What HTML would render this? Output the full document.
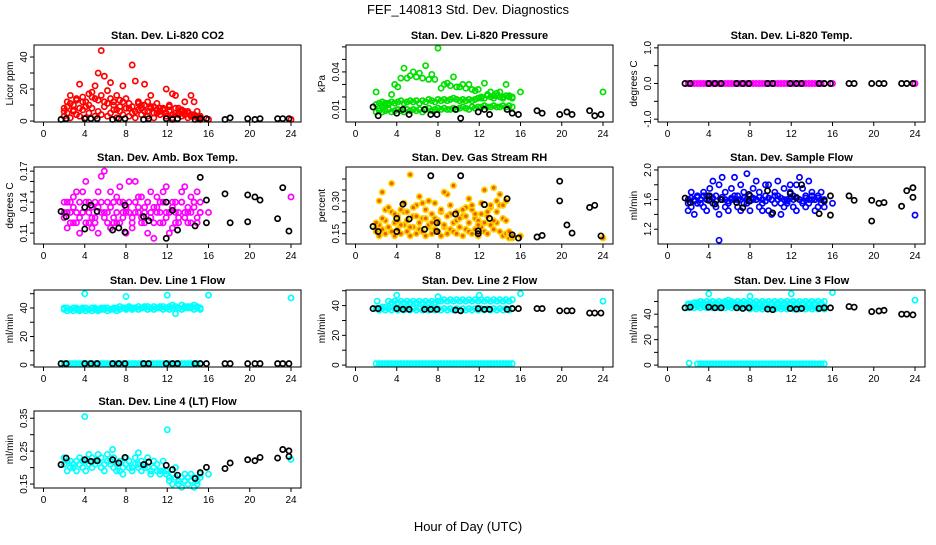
<!DOCTYPE html>
<html><head><meta charset="utf-8">
<style>
body{margin:0;background:#fff;}
svg text{font-family:"Liberation Sans",Arial,sans-serif;}
</style></head>
<body>
<svg id="chart" width="936" height="540" viewBox="0 0 936 540" xmlns="http://www.w3.org/2000/svg">
<rect x="0" y="0" width="936" height="540" fill="#fff"/>
<text x="468" y="14" font-size="13" text-anchor="middle">FEF_140813  Std. Dev. Diagnostics</text>
<text x="468" y="531" font-size="13" text-anchor="middle">Hour of Day (UTC)</text>
</svg>
<script>
const xTicks=[0,4,8,12,16,20,24];
const G=[2.0,2.3,2.6,2.9,3.2,3.5,3.8,4.1,4.4,4.7,5.0,5.3,5.6,5.9,6.2,6.5,6.8,7.1,7.4,7.7,8.0,8.3,8.6,8.9,9.2,9.5,9.8,10.1,10.4,10.7,11.0,11.3,11.6,11.9,12.2,12.5,12.8,13.1,13.4,13.7,14.0,14.3,14.6,14.9,15.2];
const BH=[1.7,2.2,4.0,4.6,5.2,6.7,7.3,7.9,9.7,10.2,11.9,12.5,13.0,14.7,15.2,15.8,17.6,18.1,19.8,20.5,21.0,22.7,23.2,23.8];
const LATE=[16.0,24.0];
// P1 CO2
const co2A=[3,5,2,6,4,3,7,2,5,8,3,6,4,9,3,5,7,2,6,4,8,3,5,2,7,4,6,3,8,2,5,4,7,3,6,2,5,4,3,6,2,4,3,2,1];
const co2B=[8,12,16,10,14,23,12,9,17,15,22,13,44,28,11,24,10,16,9,12,14,8,35,25,11,10,23,12,16,9,11,8,7,20,10,17,16,8,6,12,5,16,12,6,3];
const co2C=[6,9,11,7,13,8,15,12,10,18,14,30,16,12,19,14,12,7,13,22,8,11,9,6,12,8,10,6,9,5,7,6,8,5,9,4,8,5,7,4,6,3,4,3,2];
const co2Late=[1,1];
const co2Black=[1,1.5,1.5,1.5,1.5,1,1.5,1.5,1,1.5,1.5,1,1.5,1,1.5,1.5,1,2,1.5,1,1.5,1.5,1.5,1.5];
// P2 pressure
const prLow=[0.008,0.009,0.008,0.009,0.010,0.008,0.009,0.010,0.009,0.008,0.010,0.009,0.010,0.009,0.010,0.008,0.010,0.011,0.009,0.010,0.011,0.010,0.011,0.010,0.010,0.011,0.010,0.011,0.012,0.011,0.010,0.012,0.011,0.012,0.012,0.013,0.012,0.012,0.013,0.012,0.012,0.013,0.012,0.013,0.012];
const prMid=[0.014,0.015,0.016,0.015,0.015,0.016,0.015,0.016,0.017,0.015,0.016,0.017,0.016,0.017,0.015,0.017,0.016,0.018,0.017,0.016,0.018,0.017,0.018,0.017,0.018,0.019,0.018,0.017,0.018,0.017,0.018,0.017,0.018,0.019,0.020,0.019,0.021,0.020,0.019,0.021,0.020,0.019,0.021,0.020,0.019];
const prHigh=[0.024,0.011,0.012,0.013,0.014,0.022,0.030,0.028,0.035,0.043,0.035,0.037,0.040,0.036,0.039,0.035,0.045,0.034,0.038,0.034,0.059,0.027,0.030,0.031,0.029,0.036,0.028,0.028,0.030,0.027,0.030,0.026,0.025,0.026,0.019,0.031,0.022,0.024,0.021,0.023,0.024,0.020,0.030,0.021,0.020];
const prLate=[0.024,0.024];
const prBlack=[0.012,0.005,0.007,0.010,0.006,0.010,0.006,0.006,0.010,0.003,0.008,0.010,0.006,0.010,0.007,0.006,0.009,0.007,0.006,0.008,0.006,0.009,0.005,0.006];
// P3 temp
const tmp=[0,0,0,0,0,0,0,0,0,0,0,0,0,0,0,0,0,0,0,0,0,0,0,0,0,0,0,0,0,0,0,0,0,0,0,0,0,0,0,0,0,0,0,0,0];
const tmpLate=[0,0];
const tmpBlack=[0,0,0,0,0,0,0,0,0,0,0,0,0,0,0,0,0,0,0,0,0,0,0,0];
// P4 amb box
const ambA=[0.14,0.13,0.12,0.145,0.13,0.125,0.15,0.16,0.12,0.135,0.14,0.11,0.165,0.13,0.12,0.15,0.14,0.12,0.155,0.13,0.11,0.14,0.125,0.16,0.13,0.145,0.12,0.11,0.15,0.135,0.13,0.14,0.12,0.155,0.13,0.115,0.14,0.125,0.15,0.13,0.12,0.145,0.135,0.125,0.14];
const ambB=[0.125,0.115,0.14,0.12,0.15,0.11,0.13,0.12,0.14,0.115,0.125,0.15,0.13,0.17,0.14,0.115,0.125,0.145,0.12,0.14,0.13,0.16,0.115,0.13,0.145,0.12,0.135,0.14,0.125,0.105,0.145,0.12,0.15,0.13,0.11,0.14,0.13,0.12,0.14,0.155,0.13,0.12,0.14,0.15,0.13];
const ambC=[0.13,0.14,0.13,0.135,0.12,0.14,0.13,0.14,0.13,0.125,0.12,0.135,0.14,0.125,0.13,0.135,0.12,0.13,0.14,0.125,0.135,0.13,0.12,0.14,0.135,0.125,0.13,0.14,0.13,0.12,0.135,0.13,0.14,0.125,0.13,0.135,0.12,0.13,0.14,0.125,0.135,0.13,0.14,0.12,0.13];
const ambLate=[0.13,0.145];
const ambBlack=[0.131,0.126,0.114,0.137,0.131,0.113,0.115,0.111,0.126,0.122,0.105,0.132,0.113,0.117,0.164,0.142,0.148,0.12,0.121,0.145,0.142,0.124,0.154,0.112];
const ambXHours=[4.0,7.9,11.9,15.8,19.8];
const ambXVals=[0.135,0.137,0.14,0.12,0.147];
// P5 RH
const rhA=[0.16,0.14,0.17,0.15,0.18,0.16,0.14,0.17,0.15,0.19,0.16,0.14,0.18,0.15,0.17,0.16,0.14,0.18,0.15,0.17,0.16,0.14,0.18,0.15,0.17,0.16,0.15,0.18,0.14,0.17,0.16,0.15,0.17,0.14,0.18,0.16,0.15,0.19,0.17,0.20,0.16,0.14,0.15,0.13,0.13];
const rhB=[0.20,0.30,0.22,0.26,0.27,0.38,0.24,0.21,0.26,0.29,0.25,0.42,0.27,0.23,0.32,0.29,0.22,0.30,0.24,0.29,0.20,0.26,0.34,0.23,0.28,0.37,0.25,0.22,0.26,0.23,0.31,0.28,0.24,0.19,0.29,0.35,0.25,0.28,0.36,0.30,0.33,0.28,0.30,0.16,0.14];
const rhC=[0.18,0.19,0.34,0.21,0.18,0.25,0.20,0.23,0.19,0.25,0.21,0.18,0.23,0.28,0.20,0.22,0.26,0.19,0.20,0.22,0.21,0.25,0.19,0.33,0.24,0.20,0.21,0.18,0.23,0.27,0.20,0.26,0.22,0.21,0.24,0.20,0.23,0.27,0.21,0.25,0.28,0.22,0.21,0.15,0.14];
const rhLate=[0.14,0.13];
const rhBlack=[0.183,0.16,0.22,0.285,0.217,0.17,0.415,0.20,0.24,0.415,0.163,0.283,0.22,0.31,0.145,0.13,0.135,0.142,0.39,0.19,0.153,0.27,0.28,0.14];
const rhXHours=[4.0,7.9,19.8,11.9];
const rhXVals=[0.16,0.16,0.30,0.15];
// P6 sample flow
const sfA=[1.55,1.5,1.6,1.65,1.55,1.7,1.6,1.75,1.55,1.65,1.8,1.6,1.7,1.55,1.75,1.65,1.6,1.8,1.7,1.55,1.65,1.75,1.6,1.7,1.55,1.65,1.8,1.6,1.7,1.65,1.55,1.75,1.6,1.7,1.65,1.8,1.6,1.75,1.65,1.55,1.7,1.6,1.65,1.55,1.6];
const sfB=[1.45,1.7,1.4,1.55,1.6,1.5,1.45,1.65,1.85,1.5,1.4,1.9,1.5,1.45,1.6,1.9,1.5,1.45,1.55,1.95,1.45,1.6,1.85,1.5,1.45,1.8,1.45,1.4,1.55,1.85,1.4,1.5,1.55,1.8,1.5,1.45,1.9,1.55,1.5,1.85,1.6,1.45,1.5,1.7,1.5];
const sfC=[1.6,1.62,1.58,1.63,1.6,1.65,1.65,1.6,1.62,1.58,1.05,1.63,1.6,1.58,1.62,1.6,1.65,1.6,1.62,1.6,1.58,1.62,1.6,1.63,1.6,1.58,1.62,1.6,1.65,1.6,1.62,1.6,1.58,1.62,1.6,1.63,1.6,1.58,1.62,1.6,1.65,1.6,1.62,1.6,1.58];
const sfLate=[1.55,1.39];
const sfBlack=[1.62,1.56,1.65,1.54,1.60,1.56,1.49,1.67,1.72,1.42,1.68,1.62,1.80,1.41,1.58,1.65,1.65,1.59,1.59,1.55,1.56,1.51,1.72,1.76];
const sfXHours=[4.0,7.9,15.8,19.8,23.8];
const sfXVals=[1.59,1.58,1.39,1.31,1.63];
// P7 line 1
const l1A=[39,38,39,38,39,38,39,38,39,38,39,38,39,39,38,39,39,38,39,40,39,40,39,40,39,40,40,39,40,39,40,40,39,40,39,40,36,40,39,40,41,40,39,40,39];
const l1B=[40,40,39,40,40,39,40,40,39,40,40,39,40,40,40,39,40,40,41,40,40,41,40,40,41,40,41,41,40,41,40,41,41,40,41,42,41,40,42,41,40,41,42,41,40];
const l1Z=[1,1,1,1,1,1,1,1,1,1,1,1,1,1,1,1,1,1,1,1,1,1,1,1,1,1,1,1,1,1,1,1,1,1,1,1,1,1,1,1,1,1,1,1,1];
const l1XHours=[4.0,8.0,12.0,16.0,24.0];
const l1XVals=[50,48,49,49,47];
const l1Black=[1,1,1,1,1,1,1,1,1,1,1,1,1,1,1,1,1,1,1,1,1,1,1,1];
// P8 line 2
const l2A=[38,37,38,37,38,37,38,37,38,37,38,37,38,37,38,37,38,37,38,37,38,37,38,37,38,37,38,37,38,37,38,37,38,37,38,37,38,37,38,37,38,37,38,37,38];
const l2B=[38,38,39,39,43,42,43,42,43,42,43,42,43,42,43,42,43,42,43,42,43,43,44,43,44,43,44,43,44,43,44,43,44,43,44,43,44,43,44,43,44,43,44,43,44];
const l2Z=[1,1,1,1,1,1,1,1,1,1,1,1,1,1,1,1,1,1,1,1,1,1,1,1,1,1,1,1,1,1,1,1,1,1,1,1,1,1,1,1,1,1,1,1,1];
const l2XHours=[2.1,4.0,8.0,12.0,16.0,24.0];
const l2XVals=[43,47,46,47,48,43];
const l2Black=[38,38,38,37.5,37.5,37.5,37.5,37.5,37,36.5,38,37.5,37.5,37.5,38,38,38,38,36.5,36.5,36.5,35,35,35];
// P9 line 3
const l3A=[45,46,45,46,45,46,45,46,45,46,45,46,45,46,45,46,45,46,45,46,44,45,44,45,44,45,44,45,44,45,44,45,44,45,44,45,44,45,44,45,44,45,44,45,44];
const l3B=[48,48,49,49,50,49,50,49,50,49,50,49,50,51,50,49,50,49,50,49,50,49,50,49,50,49,50,49,50,49,50,49,50,49,50,49,50,49,50,49,50,49,50,49,50];
const l3C=[47,47,47,48,47,48,47,48,47,48,47,48,47,48,47,48,47,48,47,48,47,47,46,47,46,47,46,47,46,47,46,47,46,47,46,47,46,47,46,47,46,47,46,47,46];
const l3Z=[2,2,2,1,1,1,1,1,1,1,1,1,1,1,1,1,1,1,1,1,1,1,1,1,1,1,1,1,1,1,1,1,1,1,1,1,1,1,1,1,1,1,1,1,1];
const l3XHours=[2.1,4.0,8.0,12.0,16.0,24.0];
const l3XVals=[1.5,56,54,56,57,51];
const l3Black=[45,45.5,45.5,45,45,45,44.5,45,44,43.5,44.5,44,44.5,44.5,45,45,46,45.5,42,42.5,43,40,40,39.5];
// P10 line 4
const l4A=[0.21,0.22,0.20,0.21,0.22,0.21,0.20,0.22,0.21,0.23,0.21,0.22,0.20,0.21,0.22,0.21,0.20,0.21,0.19,0.20,0.21,0.20,0.19,0.21,0.20,0.19,0.21,0.20,0.19,0.20,0.19,0.18,0.19,0.18,0.17,0.18,0.17,0.16,0.17,0.16,0.17,0.16,0.17,0.16,0.17];
const l4B=[0.23,0.19,0.22,0.20,0.19,0.23,0.22,0.19,0.24,0.20,0.22,0.24,0.23,0.19,0.24,0.22,0.23,0.19,0.22,0.18,0.23,0.22,0.20,0.23,0.21,0.22,0.20,0.23,0.18,0.22,0.21,0.19,0.22,0.19,0.16,0.15,0.20,0.15,0.14,0.18,0.15,0.18,0.14,0.15,0.18];
const l4XHours=[4.0,12.0,6.7,9.2,16.0,24.0];
const l4XVals=[0.355,0.315,0.255,0.245,0.18,0.225];
const l4Black=[0.209,0.229,0.224,0.219,0.221,0.224,0.214,0.231,0.209,0.217,0.207,0.194,0.177,0.167,0.185,0.201,0.197,0.214,0.224,0.221,0.231,0.229,0.255,0.251];
const l4XbHours=[23.8];
const l4XbVals=[0.234];

const yTicks=[[0,10,20,30,40],[0.01,0.02,0.03,0.04,0.05,0.06],[-1,-0.5,0,0.5,1],[0.11,0.12,0.13,0.14,0.15,0.16,0.17],[0.15,0.20,0.25,0.30,0.35,0.40],[1.2,1.4,1.6,1.8,2.0],[0,10,20,30,40,50],[0,10,20,30,40,50],[0,10,20,30,40,50],[0.15,0.20,0.25,0.30,0.35]];
const yTickLabels=[["0","","20","","40"],["0.01","","","0.04","",""],["-1.0","","0.0","","1.0"],["0.11","","","0.14","","","0.17"],["0.15","","","0.30","",""],["1.2","","1.6","","2.0"],["0","","20","","40",""],["0","","20","","40",""],["0","","20","","40",""],["0.15","","0.25","","0.35"]];
const titles=["Stan. Dev. Li-820 CO2","Stan. Dev. Li-820 Pressure","Stan. Dev. Li-820 Temp.","Stan. Dev. Amb. Box Temp.","Stan. Dev. Gas Stream RH","Stan. Dev. Sample Flow","Stan. Dev. Line 1 Flow","Stan. Dev. Line 2 Flow","Stan. Dev. Line 3 Flow","Stan. Dev. Line 4 (LT) Flow"];
const yTitles=["Licor ppm","kPa","degrees C","degrees C","percent","ml/min","ml/min","ml/min","ml/min","ml/min"];
const yDomains=[[-0.6,47.5],[0,0.0615],[-1.08,1.08],[0.0995,0.174],[0.103,0.455],[1.0,2.04],[-1.4,52.6],[-1.3,50.5],[-1.5,59],[0.138,0.372]];

const NS="http://www.w3.org/2000/svg";
const svg=document.getElementById('chart');
function mk(tag,attrs,parent){const e=document.createElementNS(NS,tag);for(const k in attrs)e.setAttribute(k,attrs[k]);(parent||svg).appendChild(e);return e;}
const colL=[34,346,658], rowT=[45,167,290,411], PW=267, PH=77;
const panels=[];
for(let i=0;i<10;i++){
  const c=i%3, r=Math.floor(i/3);
  const L=colL[c], T=rowT[r], B=T+PH;
  const g=mk('g',{});
  
  
  const p={L,T,B,g,
    x:h=>L+9.5+h*(247.5/24),
    y:v=>B-(v-yDomains[i][0])/(yDomains[i][1]-yDomains[i][0])*PH};
  panels.push(p);
  const t=mk('text',{x:L+PW/2,y:T-6,'font-size':11,'font-weight':'bold','text-anchor':'middle'},g);
  
  
  t.textContent=titles[i];
  const yt=mk('text',{x:0,y:0,'font-size':10,'text-anchor':'middle',transform:`translate(${L-21},${T+PH/2}) rotate(-90)`},g);
  
  
  yt.textContent=yTitles[i];
  xTicks.forEach(h=>{
    mk('line',{x1:p.x(h),x2:p.x(h),y1:B,y2:B+4,stroke:'#000','stroke-width':1},g);
    const tl=mk('text',{x:p.x(h),y:B+15,'font-size':10,'text-anchor':'middle'},g);
    
    
    tl.textContent=h;
  });
  yTicks[i].forEach((v,k)=>{
    const yy=p.y(v);
    mk('line',{x1:L-4,x2:L,y1:yy,y2:yy,stroke:'#000','stroke-width':1},g);
    if(yTickLabels[i][k]){
      const tl=mk('text',{x:0,y:0,'font-size':10,'text-anchor':'middle',transform:`translate(${L-7},${yy}) rotate(-90)`},g);
      
      
      tl.textContent=yTickLabels[i][k];
    }
  });
}
function pts(i,hours,vals,color,name,fill){
  const p=panels[i];
  const g=mk('g',{},p.g);
  
  
  for(let k=0;k<hours.length&&k<vals.length;k++){
    const c=mk('circle',{cx:p.x(hours[k]),cy:p.y(vals[k]),r:2.6,fill:fill||'none',stroke:color,'stroke-width':1.7},g);
    
    
  }
}
const RED='#ff0000',GRN='#00e000',MAG='#ff00ff',BLU='#0000ff',CYN='#00ffff',BLK='#000';
pts(0,G,co2A,RED,'co2-series');pts(0,G,co2C,RED,'co2-series');pts(0,G,co2B,RED,'co2-series');pts(0,LATE,co2Late,RED,'co2-late');pts(0,BH,co2Black,BLK,'co2-reference');
pts(1,G,prLow,GRN,'pressure-series');pts(1,G,prMid,GRN,'pressure-series');pts(1,G,prHigh,GRN,'pressure-series');pts(1,LATE,prLate,GRN,'pressure-late');pts(1,BH,prBlack,BLK,'pressure-reference');
pts(2,G,tmp,MAG,'temp-series');pts(2,LATE,tmpLate,MAG,'temp-late');pts(2,BH,tmpBlack,BLK,'temp-reference');
pts(3,G,ambA,MAG,'amb-series');pts(3,G,ambB,MAG,'amb-series');pts(3,G,ambC,MAG,'amb-series');pts(3,LATE,ambLate,MAG,'amb-late');pts(3,BH,ambBlack,BLK,'amb-reference');pts(3,ambXHours,ambXVals,BLK,'amb-reference-extra');
pts(4,G,rhA,'#ffd000','rh-series','#e86000');pts(4,G,rhC,'#ffd000','rh-series','#e86000');pts(4,G,rhB,'#ffd000','rh-series','#e86000');pts(4,LATE,rhLate,'#ffd000','rh-late','#e86000');pts(4,BH,rhBlack,BLK,'rh-reference');pts(4,rhXHours,rhXVals,BLK,'rh-reference-extra');
pts(5,G,sfA,BLU,'flow-series');pts(5,G,sfB,BLU,'flow-series');pts(5,G,sfC,BLU,'flow-series');pts(5,LATE,sfLate,BLU,'flow-late');pts(5,BH,sfBlack,BLK,'flow-reference');pts(5,sfXHours,sfXVals,BLK,'flow-reference-extra');
pts(6,G,l1Z,CYN,'line1-zero');pts(6,G,l1A,CYN,'line1-series');pts(6,G,l1B,CYN,'line1-series');pts(6,l1XHours,l1XVals,CYN,'line1-outliers');pts(6,BH,l1Black,BLK,'line1-reference');
pts(7,G,l2Z,CYN,'line2-zero');pts(7,G,l2A,CYN,'line2-series');pts(7,G,l2B,CYN,'line2-series');pts(7,l2XHours,l2XVals,CYN,'line2-outliers');pts(7,BH,l2Black,BLK,'line2-reference');
pts(8,G.slice(3),l3Z.slice(3),CYN,'line3-zero');pts(8,G,l3A,CYN,'line3-series');pts(8,G,l3C,CYN,'line3-series');pts(8,G,l3B,CYN,'line3-series');pts(8,l3XHours,l3XVals,CYN,'line3-outliers');pts(8,BH,l3Black,BLK,'line3-reference');
pts(9,G,l4A,CYN,'line4-series');pts(9,G,l4B,CYN,'line4-series');pts(9,l4XHours,l4XVals,CYN,'line4-outliers');pts(9,BH,l4Black,BLK,'line4-reference');pts(9,l4XbHours,l4XbVals,BLK,'line4-reference-extra');
panels.forEach(p=>{
  const b=mk('rect',{x:p.L,y:p.T,width:PW,height:PH,fill:'none',stroke:'#000','stroke-width':1},p.g);
  
  
});
</script>
</body></html>
